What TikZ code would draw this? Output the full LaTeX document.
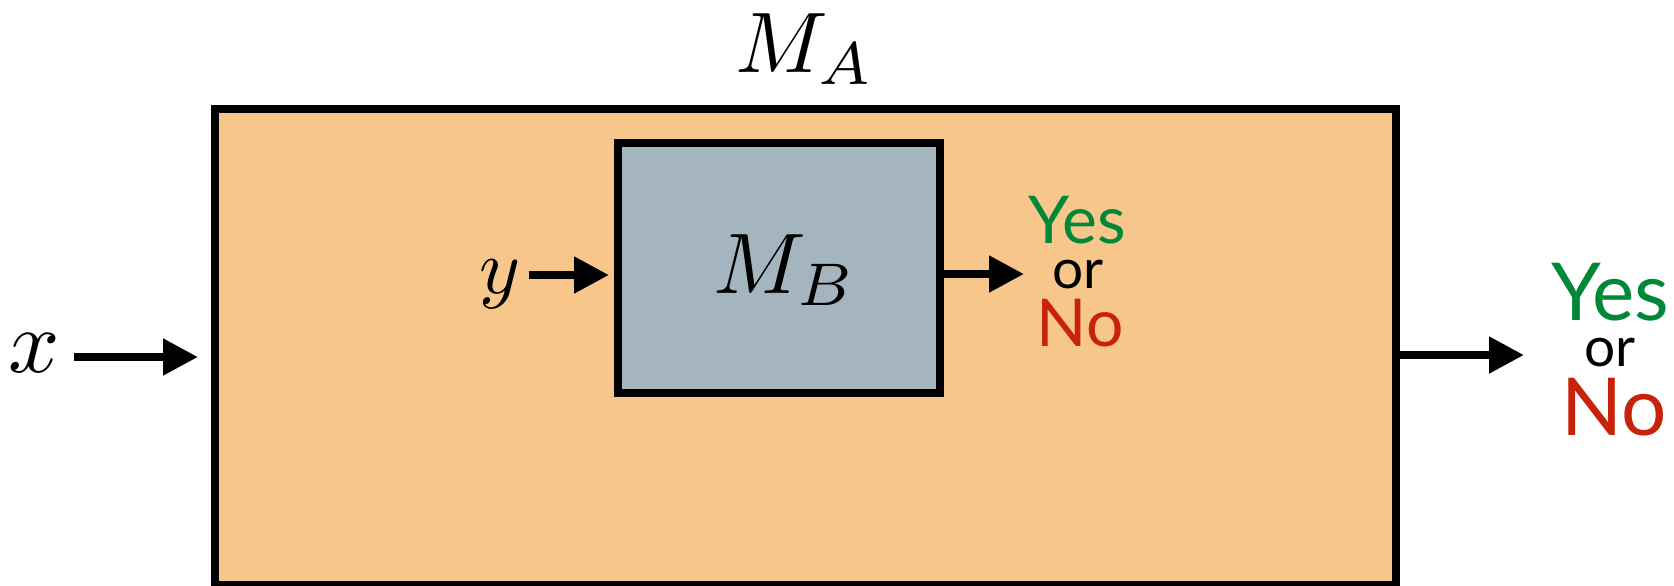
\RequirePackage{fix-cm}
\documentclass[tikz,border=0pt]{standalone}
\usepackage{fontspec}
\setsansfont{Lato}
\usetikzlibrary{arrows.meta}
\definecolor{boxorange}{RGB}{247,198,139}
\definecolor{boxgray}{RGB}{165,181,191}
\definecolor{yesgreen}{RGB}{0,135,55}
\definecolor{nored}{RGB}{200,35,10}
\begin{document}
\begin{tikzpicture}[x=0.5pt,y=-0.5pt,
  outline/.style={draw=black, line width=4pt, inner sep=0pt},
  arr/.style={line width=4pt, -{Triangle[length=17.5pt,width=17.5pt]}},
  mathlabel/.style={inner sep=0pt, anchor=base},
  bigword/.style={inner sep=0pt, anchor=base, font=\sffamily\fontsize{33}{33}\selectfont},
  hugeword/.style={inner sep=0pt, anchor=base, font=\sffamily\fontsize{40}{40}\selectfont},
  orword/.style={inner sep=0pt, anchor=base, font=\sffamily\fontsize{27.5}{27.5}\selectfont}
]
\useasboundingbox (0,0) rectangle (1674,585);

% outer machine and its name
\node[outline, fill=boxorange, minimum width=590.5pt, minimum height=238pt] (MA) at (805.5,347) {};
\node[mathlabel] (MAlab) at (805,72) {\scalebox{4.3}{$M_A$}};

% inner machine
\node[outline, fill=boxgray, minimum width=161pt, minimum height=125pt] (MB) at (779,268) {};
\node[mathlabel] (MBlab) at (785,293) {\scalebox{4.3}{$M_B$}};

% inputs
\node[mathlabel] (xlab) at (34,372) {\scalebox{4.5}{$x$}};
\node[mathlabel] (ylab) at (500,293) {\scalebox{3.9}{$y$}};

% answers of the inner machine
\node[bigword, text=yesgreen] (yes1) at (1077,243) {Yes};
\node[orword] (or1) at (1078,288) {or};
\node[bigword, text=nored] (no1) at (1080,346) {No};

% answers of the outer machine
\node[hugeword, text=yesgreen] (yes2) at (1610,320) {Yes};
\node[orword] (or2) at (1610,366) {or};
\node[hugeword, text=nored] (no2) at (1614,435) {No};

% connectors
\draw[arr, shorten <=7pt, shorten >=6.5pt]
  ([yshift=7.5pt]xlab.base east) -- ([yshift=7.5pt]xlab.base east -| MA.west);
\draw[arr, shorten <=4pt, shorten >=2.5pt]
  ([yshift=9pt]ylab.base east) -- ([yshift=9pt]ylab.base east -| MB.west);
\draw[arr, shorten >=14pt] (MB.east |- or1.west) -- (or1.west);
\draw[arr, shorten >=30pt] ([yshift=-1.5pt]MA.east |- or2.west) -- ([yshift=-1.5pt]or2.west);
\end{tikzpicture}
\end{document}
